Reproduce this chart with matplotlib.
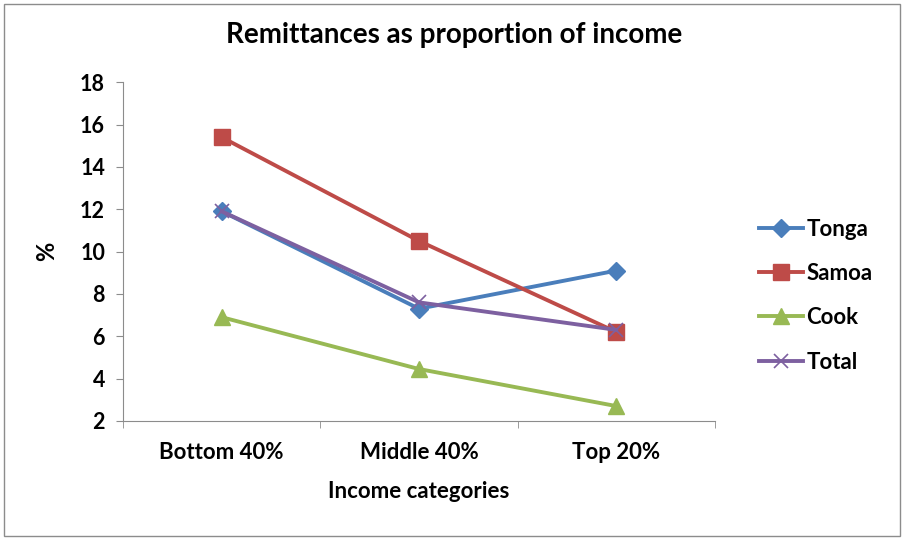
import matplotlib.pyplot as plt
from matplotlib.patches import Rectangle

# remittances as % of income by income category
categories = ['Bottom 40%', 'Middle 40%', 'Top 20%']
tonga = [11.9, 7.3, 9.1]
samoa = [15.4, 10.5, 6.2]
cook = [6.9, 4.45, 2.7]
total = [11.9, 7.6, 6.3]

plt.rcParams['font.family'] = ['Lato', 'DejaVu Sans']
plt.rcParams['font.weight'] = 'bold'
plt.rcParams['axes.labelweight'] = 'bold'

fig = plt.figure(figsize=(9.05, 5.41), dpi=100)
ax = fig.add_axes([0.136, 0.222, 0.654, 0.626])

# outer chart border
fig.patches.append(Rectangle((0.004, 0.01), 0.99, 0.983, transform=fig.transFigure,
                             fill=False, edgecolor='#8c8c8c', linewidth=1))

x = range(len(categories))
ax.plot(x, tonga, color='#4a7ebb', lw=2.8, marker='D', ms=9, label='Tonga')
ax.plot(x, samoa, color='#be4b48', lw=2.8, marker='s', ms=11, label='Samoa')
ax.plot(x, cook, color='#98b954', lw=2.8, marker='^', ms=11, label='Cook')
ax.plot(x, total, color='#7d60a0', lw=2.8, marker='x', ms=10, mew=1.2, label='Total')

ax.set_xlim(-0.5, 2.5)
ax.set_ylim(2, 18)
ax.set_yticks(range(2, 19, 2))
ax.set_xticks([0, 1, 2])
ax.set_xticklabels(categories)
ax.set_xticks([-0.5, 0.5, 1.5, 2.5], minor=True)
ax.tick_params(axis='x', which='major', length=0, pad=15, labelsize=16)
ax.tick_params(axis='x', which='minor', length=5, color='#8c8c8c')
ax.tick_params(axis='y', length=5, color='#8c8c8c', labelsize=15.5, pad=8)

for s in ['top', 'right']:
    ax.spines[s].set_visible(False)
for s in ['left', 'bottom']:
    ax.spines[s].set_color('#8c8c8c')

fig.text(0.502, 0.935, 'Remittances as proportion of income', fontsize=20,
         ha='center', va='center')
ax.set_xlabel('Income categories', fontsize=16, labelpad=13)
ax.set_ylabel('%', fontsize=17, labelpad=16)

ax.legend(loc='center left', bbox_to_anchor=(1.04, 0.37), frameon=False,
          fontsize=16, labelspacing=1.05, handlelength=2.0, handletextpad=0.15)

fig.savefig('out.png', dpi=100)
